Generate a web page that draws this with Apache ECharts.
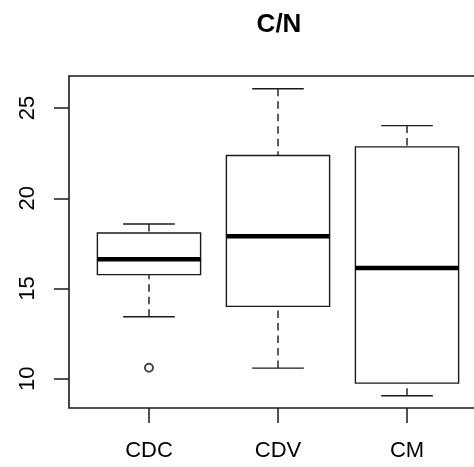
<!DOCTYPE html>
<html>
<head>
<meta charset="utf-8">
<script src="https://cdn.jsdelivr.net/npm/echarts@6/dist/echarts.min.js"></script>
<style>
  html, body { margin: 0; padding: 0; overflow: hidden; background: #fff; }
  #main { width: 500px; height: 467px; }
</style>
</head>
<body>
<div id="main"></div>
<script>
// C/N boxplot, values
const categories = ['CDC', 'CDV', 'CM'];
const whiskerLow = [13.44, 10.59, 9.06];
const q1 = [15.77, 14.01, 9.76];
const median = [16.63, 17.9, 16.14];
const q3 = [18.08, 22.37, 22.85];
const whiskerHigh = [18.58, 26.07, 24.03];
const outliers = [[1, 10.61]];
const yTicks = [10, 15, 20, 25];
const xTicks = [1, 2, 3];

const LINE = '#1a1a1a';
const boxHalf = 0.4;
const capHalf = 0.2;

const boxData = categories.map((c, i) => [i + 1, whiskerLow[i], q1[i], median[i], q3[i], whiskerHigh[i]]);

function renderBox(params, api) {
  const x = api.value(0);
  const lo = api.value(1), b1 = api.value(2), md = api.value(3), b3 = api.value(4), hi = api.value(5);
  const p = (xx, yy) => api.coord([xx, yy]);
  const seg = (a, b, style) => ({
    type: 'line',
    shape: { x1: a[0], y1: a[1], x2: b[0], y2: b[1] },
    style: Object.assign({ stroke: LINE, lineWidth: 1.4, fill: null }, style)
  });
  const tl = p(x - boxHalf, b3), br = p(x + boxHalf, b1);
  return {
    type: 'group',
    children: [
      seg(p(x, lo), p(x, b1), { lineDash: [7.5, 5] }),
      seg(p(x, hi), p(x, b3), { lineDash: [7.5, 5] }),
      seg(p(x - capHalf, lo), p(x + capHalf, lo), {}),
      seg(p(x - capHalf, hi), p(x + capHalf, hi), {}),
      {
        type: 'rect',
        shape: { x: tl[0], y: tl[1], width: br[0] - tl[0], height: br[1] - tl[1] },
        style: { stroke: LINE, lineWidth: 1.4, fill: null }
      },
      seg(p(x - boxHalf, md), p(x + boxHalf, md), { lineWidth: 4.5, stroke: '#000' })
    ]
  };
}

const chart = echarts.init(document.getElementById('main'));

chart.setOption({
  animation: false,
  title: {
    text: 'C/N',
    left: 274,
    top: 7,
    textAlign: 'center',
    textStyle: { fontFamily: 'Liberation Sans', fontWeight: 'bold', fontSize: 26, color: '#000' }
  },
  grid: {
    left: 69, top: 76, width: 418, height: 332,
    show: true, borderColor: LINE, borderWidth: 1.6, backgroundColor: 'transparent'
  },
  xAxis: {
    type: 'value',
    min: 0.38,
    max: 3.62,
    splitLine: { show: false },
    axisLine: { show: false },
    axisTick: { show: true, customValues: xTicks, length: 15, lineStyle: { color: LINE, width: 1.5 } },
    axisLabel: {
      customValues: xTicks,
      formatter: v => categories[Math.round(v) - 1],
      margin: 32,
      fontFamily: 'Liberation Sans', fontSize: 22, color: '#000'
    }
  },
  yAxis: {
    type: 'value',
    min: 8.38,
    max: 26.78,
    splitLine: { show: false },
    axisLine: { show: false },
    axisTick: { show: true, customValues: yTicks, length: 15, lineStyle: { color: LINE, width: 1.5 } },
    axisLabel: {
      customValues: yTicks,
      rotate: 90,
      margin: 30,
      fontFamily: 'Liberation Sans', fontSize: 22, color: '#000'
    }
  },
  series: [
    {
      type: 'custom',
      renderItem: renderBox,
      encode: { x: 0, y: [1, 2, 3, 4, 5] },
      data: boxData
    },
    {
      type: 'scatter',
      symbol: 'emptyCircle',
      symbolSize: 8,
      itemStyle: { color: LINE, borderColor: LINE, borderWidth: 1.3 },
      data: outliers
    }
  ]
});
</script>
</body>
</html>
